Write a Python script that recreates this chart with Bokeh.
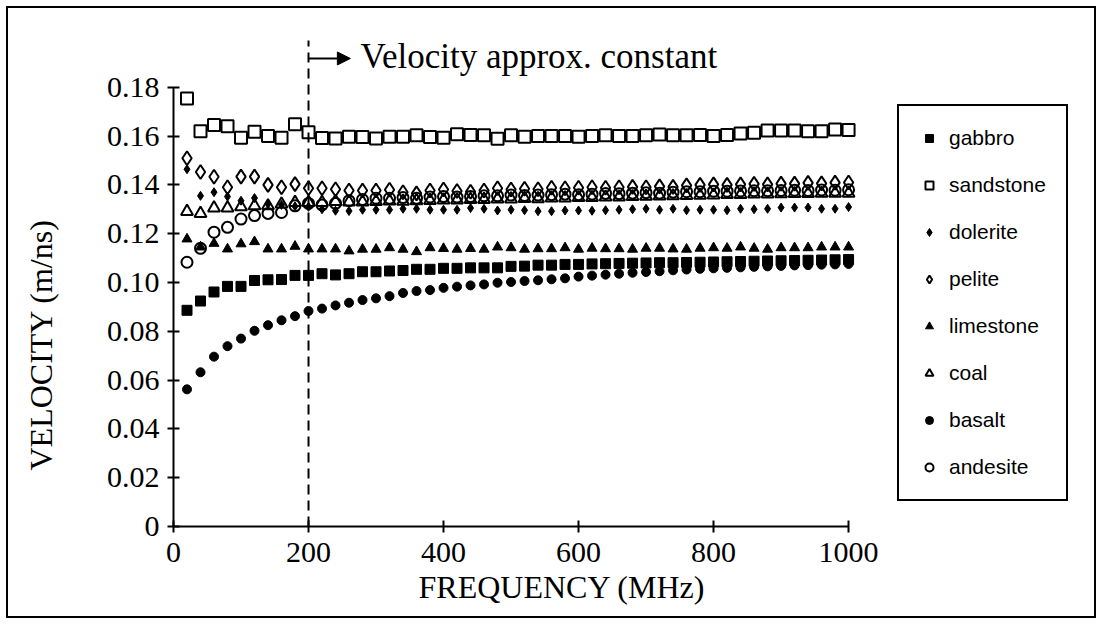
from bokeh.plotting import figure
from bokeh.models import (Range1d, FixedTicker, Legend, LegendItem, Arrow, NormalHead,
                          PrintfTickFormatter, Title)
from bokeh.core.properties import value
from bokeh.embed import file_html
from bokeh.resources import INLINE

# ---------------- data ----------------
freq = [20, 40, 60, 80, 100, 120, 140, 160, 180, 200,
        220, 240, 260, 280, 300, 320, 340, 360, 380, 400,
        420, 440, 460, 480, 500, 520, 540, 560, 580, 600,
        620, 640, 660, 680, 700, 720, 740, 760, 780, 800,
        820, 840, 860, 880, 900, 920, 940, 960, 980, 1000]

gabbro = [0.0886, 0.0924, 0.0961, 0.0984, 0.0984, 0.1008, 0.1011, 0.1012, 0.1029, 0.1029,
          0.1036, 0.1031, 0.1036, 0.1044, 0.1044, 0.1047, 0.1049, 0.1054, 0.1054, 0.1058,
          0.1058, 0.1060, 0.1060, 0.1060, 0.1066, 0.1067, 0.1071, 0.1071, 0.1074, 0.1074,
          0.1076, 0.1077, 0.1078, 0.1079, 0.1080, 0.1081, 0.1081, 0.1082, 0.1083, 0.1084,
          0.1085, 0.1086, 0.1087, 0.1088, 0.1089, 0.1090, 0.1091, 0.1092, 0.1093, 0.1094]

sandstone = [0.1754, 0.1620, 0.1645, 0.1640, 0.1593, 0.1618, 0.1600, 0.1593, 0.1648, 0.1616,
             0.1592, 0.1590, 0.1597, 0.1596, 0.1590, 0.1597, 0.1597, 0.1603, 0.1596, 0.1593,
             0.1607, 0.1604, 0.1603, 0.1589, 0.1603, 0.1597, 0.1600, 0.1600, 0.1600, 0.1597,
             0.1600, 0.1603, 0.1600, 0.1600, 0.1603, 0.1606, 0.1603, 0.1603, 0.1604, 0.1600,
             0.1604, 0.1611, 0.1614, 0.1623, 0.1623, 0.1623, 0.1620, 0.1620, 0.1627, 0.1625]

dolerite = [0.1464, 0.1355, 0.1370, 0.1352, 0.1335, 0.1346, 0.1322, 0.1318, 0.1312, 0.1310,
            0.1300, 0.1294, 0.1293, 0.1298, 0.1298, 0.1298, 0.1302, 0.1302, 0.1298, 0.1298,
            0.1298, 0.1305, 0.1302, 0.1295, 0.1298, 0.1296, 0.1292, 0.1292, 0.1295, 0.1295,
            0.1294, 0.1296, 0.1298, 0.1300, 0.1302, 0.1298, 0.1302, 0.1296, 0.1298, 0.1298,
            0.1296, 0.1302, 0.1300, 0.1302, 0.1307, 0.1307, 0.1307, 0.1302, 0.1302, 0.1309]

pelite = [0.1509, 0.1453, 0.1433, 0.1390, 0.1434, 0.1434, 0.1400, 0.1390, 0.1403, 0.1386,
          0.1386, 0.1382, 0.1377, 0.1377, 0.1377, 0.1380, 0.1370, 0.1365, 0.1377, 0.1381,
          0.1375, 0.1372, 0.1377, 0.1386, 0.1381, 0.1384, 0.1382, 0.1388, 0.1386, 0.1388,
          0.1390, 0.1388, 0.1390, 0.1392, 0.1390, 0.1394, 0.1392, 0.1398, 0.1400, 0.1402,
          0.1400, 0.1402, 0.1404, 0.1402, 0.1405, 0.1405, 0.1408, 0.1406, 0.1409, 0.1410]

limestone = [0.1178, 0.1145, 0.1160, 0.1137, 0.1158, 0.1167, 0.1137, 0.1137, 0.1148, 0.1137,
             0.1137, 0.1137, 0.1129, 0.1136, 0.1136, 0.1142, 0.1136, 0.1126, 0.1142, 0.1139,
             0.1136, 0.1139, 0.1136, 0.1145, 0.1142, 0.1136, 0.1138, 0.1138, 0.1142, 0.1136,
             0.1140, 0.1138, 0.1138, 0.1136, 0.1140, 0.1140, 0.1137, 0.1136, 0.1140, 0.1142,
             0.1140, 0.1145, 0.1140, 0.1136, 0.1142, 0.1142, 0.1142, 0.1145, 0.1145, 0.1145]

coal = [0.1291, 0.1283, 0.1305, 0.1305, 0.1310, 0.1314, 0.1314, 0.1321, 0.1328, 0.1328,
        0.1328, 0.1332, 0.1330, 0.1330, 0.1332, 0.1334, 0.1333, 0.1335, 0.1336, 0.1338,
        0.1338, 0.1340, 0.1340, 0.1342, 0.1342, 0.1344, 0.1343, 0.1346, 0.1346, 0.1348,
        0.1348, 0.1350, 0.1350, 0.1352, 0.1353, 0.1354, 0.1355, 0.1356, 0.1357, 0.1358,
        0.1360, 0.1360, 0.1362, 0.1362, 0.1363, 0.1364, 0.1364, 0.1365, 0.1366, 0.1366]

basalt = [0.0562, 0.0632, 0.0696, 0.0739, 0.0770, 0.0802, 0.0825, 0.0845, 0.0862, 0.0883,
          0.0893, 0.0906, 0.0917, 0.0928, 0.0935, 0.0944, 0.0957, 0.0965, 0.0969, 0.0978,
          0.0983, 0.0988, 0.0992, 0.0999, 0.1002, 0.1006, 0.1009, 0.1013, 0.1017, 0.1024,
          0.1028, 0.1032, 0.1036, 0.1040, 0.1043, 0.1046, 0.1050, 0.1053, 0.1056, 0.1058,
          0.1060, 0.1062, 0.1064, 0.1066, 0.1068, 0.1070, 0.1071, 0.1073, 0.1074, 0.1076]

andesite = [0.1083, 0.1140, 0.1206, 0.1226, 0.1260, 0.1274, 0.1283, 0.1287, 0.1314, 0.1324,
            0.1318, 0.1324, 0.1335, 0.1340, 0.1345, 0.1345, 0.1348, 0.1345, 0.1350, 0.1352,
            0.1350, 0.1352, 0.1355, 0.1355, 0.1358, 0.1356, 0.1358, 0.1360, 0.1362, 0.1360,
            0.1362, 0.1365, 0.1364, 0.1366, 0.1368, 0.1366, 0.1370, 0.1372, 0.1372, 0.1374,
            0.1374, 0.1375, 0.1376, 0.1376, 0.1377, 0.1378, 0.1377, 0.1379, 0.1378, 0.1380]

x_ticks = [0, 200, 400, 600, 800, 1000]
y_ticks = [0, 0.02, 0.04, 0.06, 0.08, 0.10, 0.12, 0.14, 0.16, 0.18]

threshold_freq = 200
annotation_text = "Velocity approx. constant"
x_label = "FREQUENCY (MHz)"
y_label = "VELOCITY (m/ns)"

# ---------------- figure ----------------
SERIF = "Liberation Serif"
SANS = "Liberation Sans"

p = figure(width=1090, height=612, output_backend="svg", toolbar_location=None,
           x_range=Range1d(0, 1348), y_range=Range1d(0, 0.2049),
           min_border_left=165, min_border_right=15, min_border_top=18, min_border_bottom=94)
p.styles = {"border": "2px solid black", "margin-left": "6px", "margin-top": "6px"}
p.background_fill_color = "white"
p.border_fill_color = "white"
p.outline_line_color = None
p.grid.visible = False

for ax in (p.xaxis[0], p.yaxis[0]):
    ax.axis_line_width = 2
    ax.axis_line_color = "black"
    ax.major_tick_line_width = 2
    ax.major_tick_line_color = "black"
    ax.major_tick_in = 6
    ax.major_tick_out = 6
    ax.minor_tick_line_color = None
    ax.major_label_text_font = SERIF
    ax.major_label_text_font_size = "30px"
    ax.major_label_text_color = "black"

p.xaxis.bounds = (0, 1000)
p.xaxis.ticker = FixedTicker(ticks=x_ticks)
p.xaxis.major_label_standoff = 10

p.yaxis.bounds = (0, 0.18)
p.yaxis.ticker = FixedTicker(ticks=y_ticks)
p.yaxis.formatter = PrintfTickFormatter(format="%.2f")
p.yaxis.major_label_overrides = {0: "0"}
p.yaxis.major_label_standoff = 8

# axis titles, positioned as in the original (off-centre)
p.add_layout(Title(text=x_label, align="left", offset=245, standoff=4,
                   text_font=SERIF, text_font_size="32px", text_font_style="normal",
                   text_color="black"), "below")
# thin spacer between the y axis and its title
p.add_layout(Title(text=" ", text_font_size="2px", standoff=26), "left")
p.add_layout(Title(text=y_label, align="left", offset=56, standoff=26, vertical_align="top",
                   text_font=SERIF, text_font_size="32px", text_font_style="normal",
                   text_color="black"), "left")

# dashed divider at 200 MHz
p.line(x=[threshold_freq, threshold_freq], y=[0, 0.1992], line_color="black",
       line_width=2, line_dash="10 6")

# arrow + annotation
p.add_layout(Arrow(x_start=threshold_freq, y_start=0.1918, x_end=threshold_freq + 62, y_end=0.1918,
                   line_color="black", line_width=2,
                   end=NormalHead(size=13, fill_color="black", line_color="black")))
p.text(x=[threshold_freq + 77], y=[0.1928], text=[annotation_text], text_font=value(SERIF),
       text_font_size="35px", text_baseline="middle", text_align="left", text_color="black")

series = [
    ("gabbro", gabbro, "square", True, 10),
    ("sandstone", sandstone, "square", False, 12),
    ("dolerite", dolerite, "diamond", True, 9),
    ("pelite", pelite, "diamond", False, 14),
    ("limestone", limestone, "triangle", True, 10),
    ("coal", coal, "triangle", False, 12),
    ("basalt", basalt, "circle", True, 9),
    ("andesite", andesite, "circle", False, 11),
]

items = []
for name, ys, marker, filled, size in series:
    if filled:
        r = p.scatter(freq, ys, marker=marker, size=size, fill_color="black",
                      line_color="black", line_width=1)
    else:
        r = p.scatter(freq, ys, marker=marker, size=size, fill_color=None,
                      line_color="black", line_width=2)
    items.append(LegendItem(label=name, renderers=[r]))

legend = Legend(items=items, location=(724, 25), margin=0,
                border_line_color="black", border_line_width=2, border_line_alpha=1,
                background_fill_color="white", background_fill_alpha=1,
                label_text_font=SANS, label_text_font_size="21px", label_text_color="black",
                glyph_width=20, glyph_height=20, label_height=20,
                spacing=23, padding=20, label_standoff=10)
p.add_layout(legend)

open("out.html", "w").write(file_html(p, INLINE))
